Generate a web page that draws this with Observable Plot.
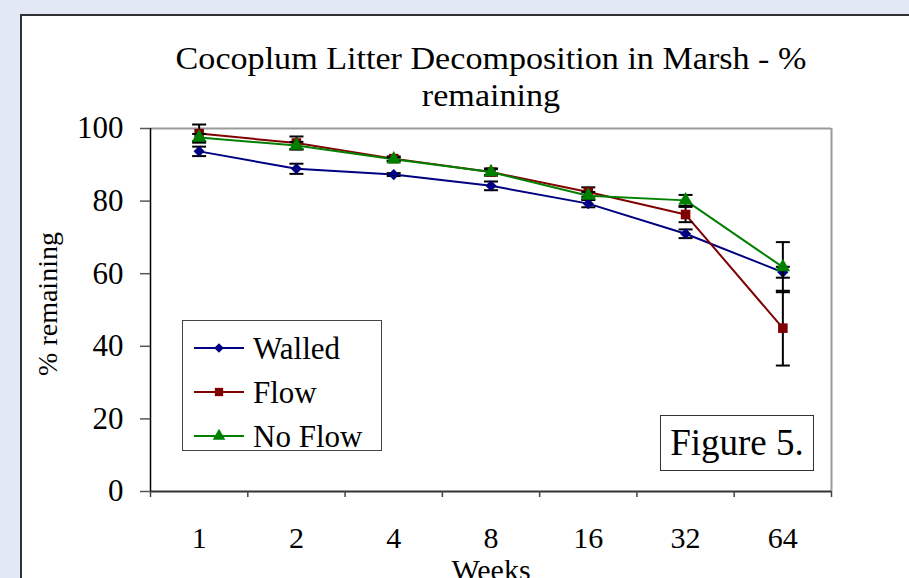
<!DOCTYPE html>
<html>
<head>
<meta charset="utf-8">
<script src="https://cdn.jsdelivr.net/npm/d3@7"></script>
<script src="https://cdn.jsdelivr.net/npm/@observablehq/plot@0.6"></script>
<style>
  html, body { margin: 0; padding: 0; }
  body { width: 909px; height: 578px; overflow: hidden; position: relative; background: #e2e9f4; font-family: "Liberation Serif", "Times New Roman", serif; }
  #panel { position: absolute; left: 20px; top: 14px; width: 1000px; height: 1000px; background: #fff; border: 2px solid #303236; }
  #chart { position: absolute; left: 0; top: 0; }
  .ovl { position: absolute; color: #000; white-space: nowrap; font-family: "Liberation Serif", "Times New Roman", serif; }
  #title1, #title2 { left: 491px; transform: translateX(-50%) scaleX(1.1); font-size: 31px; line-height: 1; }
  #title1 { top: 43px; }
  #title2 { top: 80px; }
  #ylabel { left: 48px; top: 304px; font-size: 28px; line-height: 1; transform: translate(-50%, -50%) rotate(-90deg); }
  #xlabel { left: 491px; top: 555px; font-size: 30px; line-height: 1; transform: translateX(-50%); }
  #legend { left: 182px; top: 320px; width: 200px; height: 131px; border: 1px solid #444; background: #fff; box-sizing: border-box; }
  .lrow { position: absolute; left: 10px; height: 30px; display: flex; align-items: center; font-size: 31px; line-height: 1; font-family: "Liberation Serif", "Times New Roman", serif; }
  .lrow svg { margin-right: 8px; }
  #fig { left: 660px; top: 415px; width: 154px; height: 56px; border: 1.5px solid #333; box-sizing: border-box; background: #fff; font-size: 37px; line-height: 54px; text-align: center; }
</style>
</head>
<body>
<div id="panel"></div>
<div id="chart"></div>
<div class="ovl" id="title1">Cocoplum Litter Decomposition in Marsh - %</div>
<div class="ovl" id="title2">remaining</div>
<div class="ovl" id="ylabel">% remaining</div>
<div class="ovl" id="xlabel">Weeks</div>
<div class="ovl" id="legend"></div>
<div class="ovl" id="fig">Figure 5.</div>
<script>
// ---- data ----
const weeks = ["1", "2", "4", "8", "16", "32", "64"];
const seriesNames = ["Walled", "Flow", "No Flow"];
const seriesColors = ["#000080", "#800000", "#008000"];
const walled = [93.7, 88.9, 87.3, 84.2, 79.3, 71.0, 60.4];
const walledErr = [1.3, 1.4, 0.4, 1.2, 1.0, 1.2, 1.5];
const flow = [98.6, 96.0, 91.7, 88.0, 82.5, 76.3, 45.0];
const flowErr = [2.5, 1.8, 0.6, 1.0, 1.3, 2.1, 10.3];
const noFlow = [97.5, 95.3, 91.5, 88.0, 81.5, 80.2, 61.8];
const noFlowErr = [1.0, 1.0, 0.5, 0.8, 1.0, 1.5, 6.9];
const yTicks = [0, 20, 40, 60, 80, 100];

// ---- build table ----
const values = [walled, flow, noFlow];
const errs = [walledErr, flowErr, noFlowErr];
const symbols = [d3.symbolDiamond2, d3.symbolSquare, d3.symbolTriangle];
const radii = [5.0, 5.4, 5.4];

const capSymbol = {
  draw(ctx, size) {
    const w = Math.sqrt(size / Math.PI);
    ctx.moveTo(-w, 0);
    ctx.lineTo(w, 0);
  }
};

const idx = weeks.map((w, i) => i);
const pos = i => i + 0.5;

const marks = [
  Plot.ruleY([100], {stroke: "#9a9a9a", strokeWidth: 2}),
  Plot.ruleX([weeks.length], {stroke: "#9a9a9a", strokeWidth: 2}),
];

seriesNames.forEach((name, s) => {
  const rows = idx.map(i => ({x: pos(i), y: values[s][i], e: errs[s][i]}));
  marks.push(
    Plot.line(rows, {x: "x", y: "y", stroke: seriesColors[s], strokeWidth: 2}),
    Plot.ruleX(rows, {x: "x", y1: d => d.y - d.e, y2: d => d.y + d.e, stroke: "#000", strokeWidth: 2}),
    Plot.dot(rows, {x: "x", y: d => d.y + d.e, symbol: capSymbol, r: 7, stroke: "#000", fill: "none", strokeWidth: 2}),
    Plot.dot(rows, {x: "x", y: d => d.y - d.e, symbol: capSymbol, r: 7, stroke: "#000", fill: "none", strokeWidth: 2}),
    Plot.dot(rows, {x: "x", y: "y", symbol: symbols[s], r: radii[s], fill: seriesColors[s], stroke: "none"})
  );
});

marks.push(
  Plot.ruleY([0], {stroke: "#333", strokeWidth: 2}),
  Plot.ruleX([0], {stroke: "#000", strokeWidth: 1.5}),
  Plot.axisY({ticks: yTicks, tickSize: 10, tickPadding: 17, fontSize: 31, label: null, strokeWidth: 1.5, stroke: "#555"}),
  Plot.axisX({ticks: d3.range(0, weeks.length + 1), tickSize: 6, tickFormat: () => "", label: null, strokeWidth: 1.5, stroke: "#444"}),
  Plot.axisX({ticks: idx.map(pos), tickSize: 0, tickPadding: 35, tickFormat: v => weeks[Math.round(v - 0.5)], fontSize: 30, label: null})
);

const chart = Plot.plot({
  width: 909,
  height: 578,
  marginLeft: 150,
  marginRight: 78,
  marginTop: 128,
  marginBottom: 87,
  x: {domain: [0, weeks.length]},
  y: {domain: [0, 100]},
  style: {background: "transparent", color: "#000", fontFamily: "'Liberation Serif', 'Times New Roman', serif", fontSize: "30px", overflow: "visible"},
  marks
});
document.getElementById("chart").appendChild(chart);

// ---- legend (HTML overlay) ----
const legend = d3.select("#legend");
seriesNames.forEach((name, s) => {
  const row = legend.append("div").attr("class", "lrow").style("top", (12 + s * 44) + "px");
  const sw = row.append("svg").attr("width", 52).attr("height", 20);
  sw.append("line").attr("x1", 1).attr("x2", 51).attr("y1", 10).attr("y2", 10)
    .attr("stroke", seriesColors[s]).attr("stroke-width", 2);
  const size = Math.PI * radii[s] * radii[s] * 0.75;
  sw.append("path").attr("d", d3.symbol(symbols[s], size)()).attr("transform", "translate(26,10)")
    .attr("fill", seriesColors[s]);
  row.append("span").text(name);
});
</script>
</body>
</html>
